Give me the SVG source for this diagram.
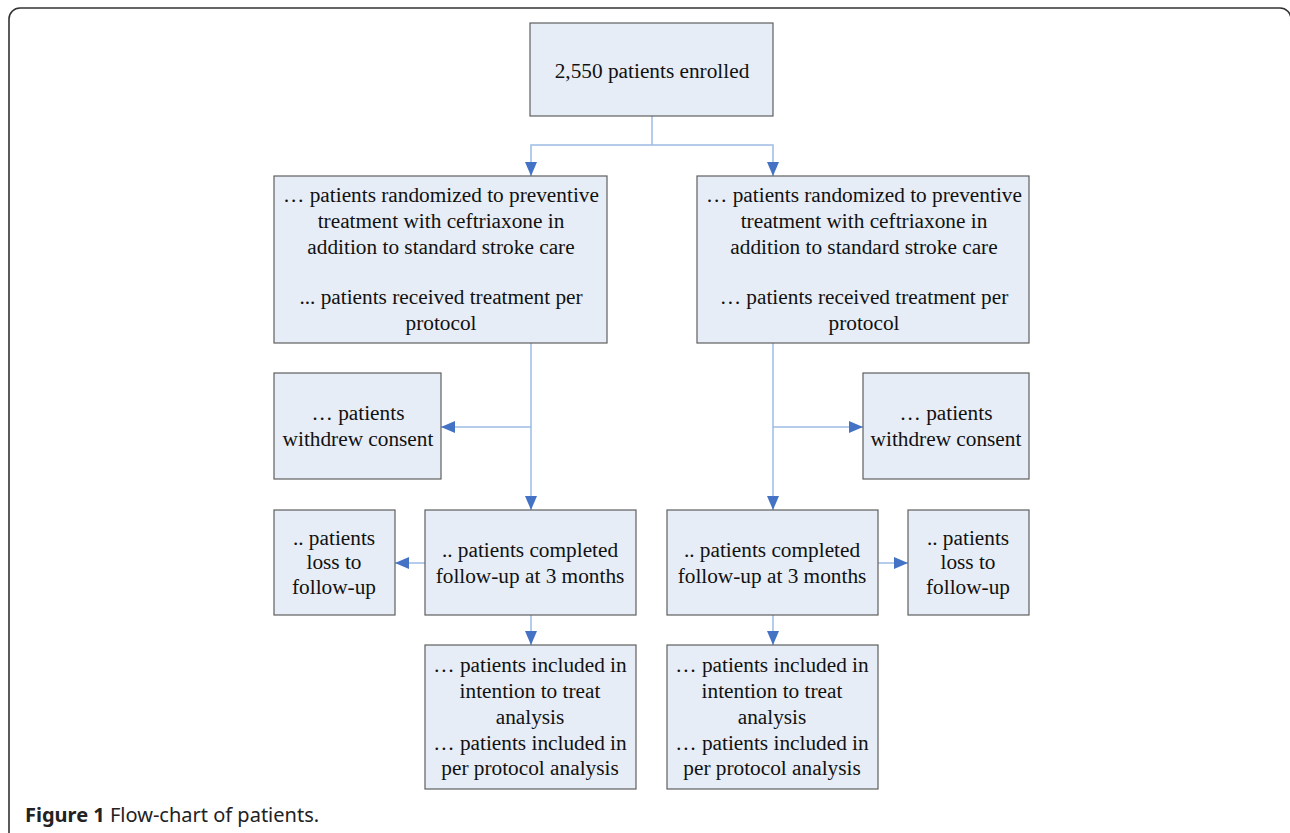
<svg xmlns="http://www.w3.org/2000/svg" width="1290" height="833" viewBox="0 0 1290 833">
<defs>
<marker id="arr" viewBox="0 0 14 12" refX="14" refY="6" markerWidth="14" markerHeight="12" markerUnits="userSpaceOnUse" orient="auto">
<path d="M0,0 L14,6 L0,12 Z" fill="#4472c4"/>
</marker>
</defs>
<style>
.box{fill:#e7edf6;stroke:#5f5f5f;stroke-width:1.2}
.t{font-family:"Liberation Serif","Times New Roman",serif;font-size:21.3px;fill:#111;text-anchor:middle}
.c{fill:none;stroke:#9dbbe3;stroke-width:1.5}
.ca{fill:none;stroke:#9dbbe3;stroke-width:1.5;marker-end:url(#arr)}
.cap{font-family:"Noto Sans","Liberation Sans",sans-serif;font-size:20px;fill:#222}
</style>
<rect x="0" y="0" width="1290" height="833" fill="#fff"/>
<rect x="9" y="8" width="1282" height="850" rx="11" fill="none" stroke="#333" stroke-width="1.6"/>

<g id="connectors">
<path class="c" d="M652,116 V145"/>
<path class="ca" d="M652,145 H531 V176"/>
<path class="ca" d="M652,145 H773 V176"/>
<path class="ca" d="M531,343 V510"/>
<path class="ca" d="M531,427 H441"/>
<path class="ca" d="M773,343 V510"/>
<path class="ca" d="M773,427 H863"/>
<path class="ca" d="M425,563 H395"/>
<path class="ca" d="M878,563 H908"/>
<path class="ca" d="M531,615 V645"/>
<path class="ca" d="M773,615 V645"/>
</g>

<g id="enrolled">
<rect class="box" x="530" y="23" width="243" height="93"/>
<text class="t" x="652" y="78">2,550 patients enrolled</text>
</g>

<g id="randomized-left">
<rect class="box" x="274" y="176" width="333" height="167"/>
<text class="t" x="441" y="202">… patients randomized to preventive</text>
<text class="t" x="441" y="228">treatment with ceftriaxone in</text>
<text class="t" x="441" y="254">addition to standard stroke care</text>
<text class="t" x="441" y="304">... patients received treatment per</text>
<text class="t" x="441" y="330">protocol</text>
</g>

<g id="randomized-right">
<rect class="box" x="697" y="176" width="332" height="167"/>
<text class="t" x="864" y="202">… patients randomized to preventive</text>
<text class="t" x="864" y="228">treatment with ceftriaxone in</text>
<text class="t" x="864" y="254">addition to standard stroke care</text>
<text class="t" x="864" y="304">… patients received treatment per</text>
<text class="t" x="864" y="330">protocol</text>
</g>

<g id="withdrew-left">
<rect class="box" x="274" y="373" width="167" height="106"/>
<text class="t" x="358" y="420">… patients</text>
<text class="t" x="358" y="446">withdrew consent</text>
</g>

<g id="withdrew-right">
<rect class="box" x="863" y="373" width="166" height="106"/>
<text class="t" x="946" y="420">… patients</text>
<text class="t" x="946" y="446">withdrew consent</text>
</g>

<g id="completed-left">
<rect class="box" x="425" y="510" width="211" height="105"/>
<text class="t" x="530" y="557">.. patients completed</text>
<text class="t" x="530" y="583">follow-up at 3 months</text>
</g>

<g id="completed-right">
<rect class="box" x="667" y="510" width="211" height="105"/>
<text class="t" x="772" y="557">.. patients completed</text>
<text class="t" x="772" y="583">follow-up at 3 months</text>
</g>

<g id="loss-left">
<rect class="box" x="274" y="510" width="121" height="105"/>
<text class="t" x="334" y="545">.. patients</text>
<text class="t" x="334" y="569">loss to</text>
<text class="t" x="334" y="594">follow-up</text>
</g>

<g id="loss-right">
<rect class="box" x="908" y="510" width="121" height="105"/>
<text class="t" x="968" y="545">.. patients</text>
<text class="t" x="968" y="569">loss to</text>
<text class="t" x="968" y="594">follow-up</text>
</g>

<g id="analysis-left">
<rect class="box" x="425" y="645" width="211" height="144"/>
<text class="t" x="530" y="672">… patients included in</text>
<text class="t" x="530" y="698">intention to treat</text>
<text class="t" x="530" y="724">analysis</text>
<text class="t" x="530" y="750">… patients included in</text>
<text class="t" x="530" y="775">per protocol analysis</text>
</g>

<g id="analysis-right">
<rect class="box" x="667" y="645" width="211" height="144"/>
<text class="t" x="772" y="672">… patients included in</text>
<text class="t" x="772" y="698">intention to treat</text>
<text class="t" x="772" y="724">analysis</text>
<text class="t" x="772" y="750">… patients included in</text>
<text class="t" x="772" y="775">per protocol analysis</text>
</g>

<text class="cap" x="25" y="822"><tspan font-weight="bold">Figure 1</tspan> Flow-chart of patients.</text>
</svg>
